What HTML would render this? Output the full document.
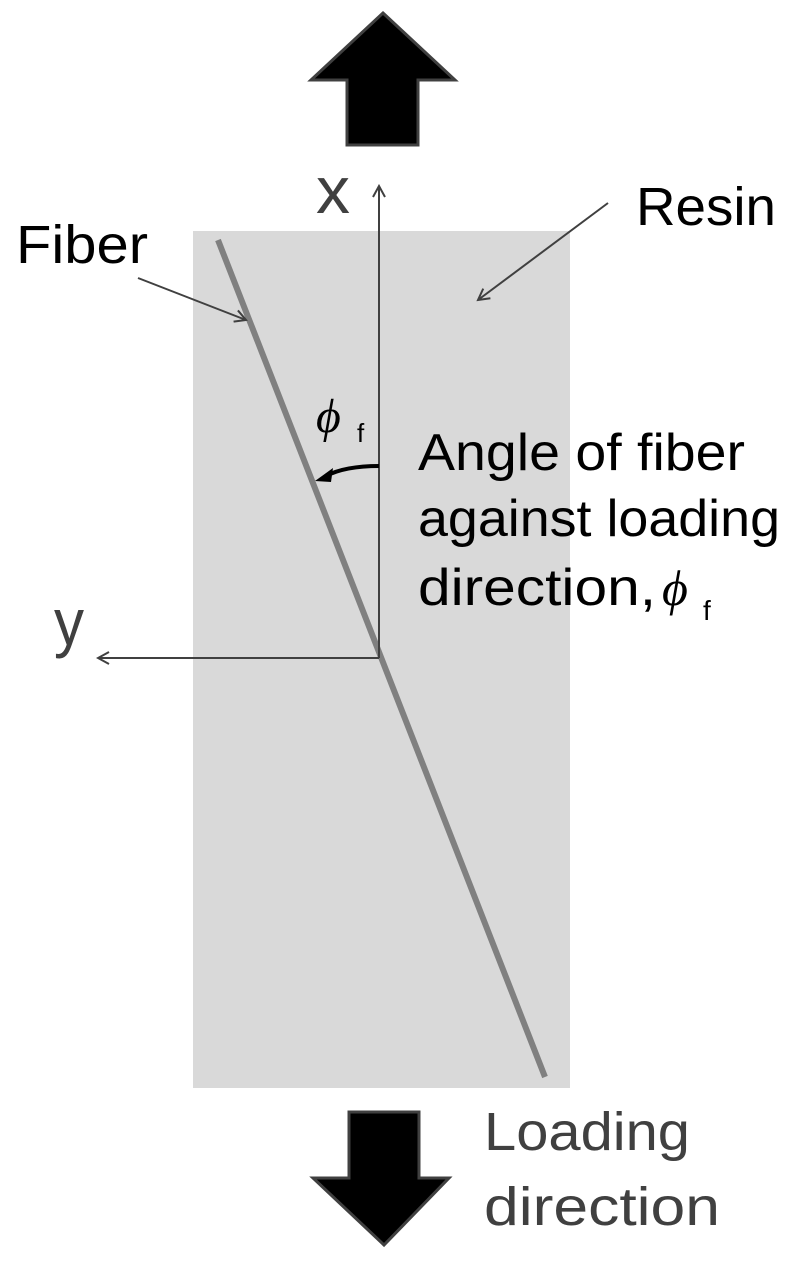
<!DOCTYPE html>
<html><head><style>body{margin:0;background:#fff}svg{display:block}</style></head><body>
<svg width="801" height="1261" viewBox="0 0 801 1261" xmlns="http://www.w3.org/2000/svg" font-family="Liberation Sans, sans-serif">
<defs>
<marker id="oa" markerWidth="14" markerHeight="14" refX="12" refY="7" orient="auto" markerUnits="userSpaceOnUse"><path d="M1,1 L12,7 L1,13" fill="none" stroke="#404040" stroke-width="2"/></marker>
</defs>
<rect x="193" y="231" width="377" height="857" fill="#d9d9d9"/>
<line x1="218" y1="240" x2="545" y2="1077" stroke="#808080" stroke-width="6"/>
<line x1="379" y1="658" x2="379" y2="186" stroke="#404040" stroke-width="2" marker-end="url(#oa)"/>
<line x1="379" y1="658" x2="98" y2="658" stroke="#404040" stroke-width="2" marker-end="url(#oa)"/>
<path d="M383,13 L455,80 L418,80 L418,145 L347,145 L347,80 L311,80 Z" fill="#000" stroke="#404040" stroke-width="3"/>
<path d="M349,1112 L419,1112 L419,1178 L449,1178 L384,1245 L313,1178 L349,1178 Z" fill="#000" stroke="#404040" stroke-width="3"/>
<line x1="138" y1="278" x2="246" y2="320" stroke="#404040" stroke-width="2" marker-end="url(#oa)"/>
<line x1="608" y1="203" x2="478" y2="300" stroke="#404040" stroke-width="2" marker-end="url(#oa)"/>
<path d="M379,466 Q345,466 326,476" fill="none" stroke="#000" stroke-width="4"/>
<path d="M315,481 L333,468 L331,482 Z" fill="#000"/>
<text x="16" y="263" font-size="54" textLength="132" lengthAdjust="spacingAndGlyphs" fill="#000">Fiber</text>
<text x="636" y="225" font-size="54" textLength="140" lengthAdjust="spacingAndGlyphs" fill="#000">Resin</text>
<text x="316" y="213" font-size="66" textLength="34" lengthAdjust="spacingAndGlyphs" fill="#404040">x</text>
<text x="54" y="645" font-size="66" textLength="30" lengthAdjust="spacingAndGlyphs" fill="#404040">y</text>
<text x="316" y="432" font-size="48" font-style="italic" font-family="Liberation Serif, serif" fill="#000">ϕ</text>
<text x="357" y="442" font-size="26" fill="#000">f</text>
<text x="418" y="470" font-size="52" textLength="327" lengthAdjust="spacingAndGlyphs" fill="#000">Angle of fiber</text>
<text x="418" y="536" font-size="52" textLength="362" lengthAdjust="spacingAndGlyphs" fill="#000">against loading</text>
<text x="418" y="605" font-size="52" textLength="238" lengthAdjust="spacingAndGlyphs" fill="#000">direction,</text>
<text x="662" y="605" font-size="50" font-style="italic" font-family="Liberation Serif, serif" fill="#000">ϕ</text>
<text x="703" y="620" font-size="28" fill="#000">f</text>
<text x="484" y="1150" font-size="54" textLength="206" lengthAdjust="spacingAndGlyphs" fill="#404040">Loading</text>
<text x="484" y="1225" font-size="54" textLength="236" lengthAdjust="spacingAndGlyphs" fill="#404040">direction</text>
</svg>
</body></html>
